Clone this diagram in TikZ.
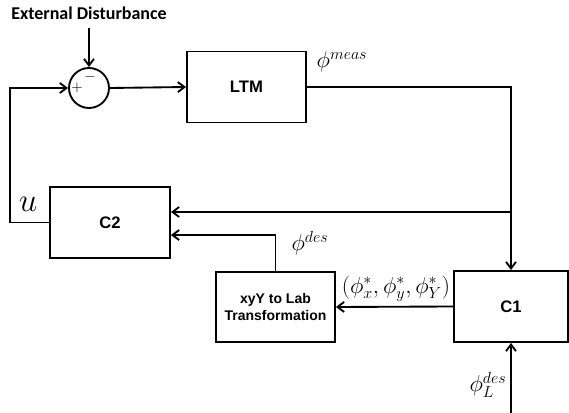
\documentclass[tikz,border=0pt]{standalone}
\usepackage{fontspec}
\setsansfont{Liberation Sans}
\newfontfamily\calibrifont{Carlito}
\usetikzlibrary{arrows.meta, shapes.geometric}

\tikzset{
    block/.style={draw, line width=1.4pt, font=\sffamily\bfseries\fontsize{12.5}{14}\selectfont, align=center, inner sep=0pt},
    sumnode/.style={draw, circle, line width=1.4pt, minimum size=40*0.75pt, inner sep=0pt},
    arr/.style={line width=1.4pt, -{Straight Barb[length=5pt,width=7.5pt]}},
    sig/.style={font=\fontsize{17}{20}\selectfont, inner sep=0pt}
}

\begin{document}
\begin{tikzpicture}[x=0.75pt, y=-0.75pt]
    % Define dimensions
    \def\bw{119*0.75pt}
    \def\bh{71*0.75pt}
    \useasboundingbox (0,0) rectangle (569,413);
    % Draw the blocks
    \node[font=\calibrifont\bfseries\fontsize{13.5}{15}\selectfont, inner sep=3pt] (dist) at (89,13) {External Disturbance};
    \node[sumnode] (sum) at (89,88) {};
    \node[font=\fontsize{11}{12}\selectfont, inner sep=0pt] (plus) at (77,88) {$+$};
    \node[font=\fontsize{11}{12}\selectfont, inner sep=0pt] (minus) at (90,77) {$-$};
    \node[block, minimum width=\bw, minimum height=\bh] (ltm) at (246.5,87) {LTM};
    \node[block, minimum width=120*0.75pt, minimum height=\bh] (c2) at (110,222.5) {C2};
    \node[block, minimum width=\bw, minimum height=70*0.75pt, font=\sffamily\bfseries\fontsize{10.5}{13}\selectfont] (xyy) at (275.5,307) {xyY to Lab\\Transformation};
    \node[block, minimum width=114*0.75pt, minimum height=\bh] (c1) at (511,306.5) {C1};
    % Corner points of the wires
    \coordinate (uleft) at (10,88);
    \coordinate (mcorner) at (511,87);
    \coordinate (split) at (511,212);
    \coordinate (lin) at (511,413);
    % Draw the connectors
    \draw[arr, shorten <=3pt] (dist.south) -- (sum.north);
    \draw[arr] (sum.east) -- (ltm.west);
    \draw[arr] (c2.west) -| (uleft) -- (sum.west);
    \draw[arr] (ltm.east) -- (mcorner) -- (c1.north);
    \draw[arr] (split) -- (split -| c2.east);
    \draw[arr] (xyy.north) |- ([yshift=-9.4pt]c2.east);
    \draw[arr] (c1.west) -- (xyy.east);
    \draw[arr] (lin) -- (c1.south);
    % Signal labels
    \node[sig] (meas) at (342,62) {$\phi^{meas}$};
    \node[sig, font=\fontsize{24}{26}\selectfont] (u) at (28,204) {$u$};
    \node[sig] (des) at (310,243) {$\phi^{des}$};
    \node[sig] (star) at (396,289) {$(\phi_x^*,\phi_y^*,\phi_Y^*)$};
    \node[sig] (ldes) at (488,385) {$\phi_L^{des}$};
\end{tikzpicture}
\end{document}
